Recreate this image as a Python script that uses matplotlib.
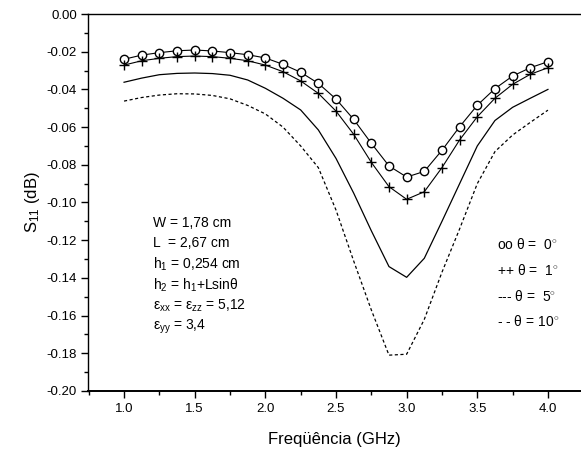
import matplotlib.pyplot as plt
from matplotlib.ticker import MultipleLocator

plt.rcParams['font.family'] = ['Liberation Sans', 'DejaVu Sans']
plt.rcParams['mathtext.fontset'] = 'custom'
plt.rcParams['mathtext.rm'] = 'Liberation Sans'
plt.rcParams['mathtext.it'] = 'Liberation Sans'

# frequencia (GHz)
freq = [1.0, 1.125, 1.25, 1.375, 1.5, 1.625, 1.75, 1.875, 2.0, 2.125, 2.25, 2.375, 2.5,
        2.625, 2.75, 2.875, 3.0, 3.125, 3.25, 3.375, 3.5, 3.625, 3.75, 3.875, 4.0]

# S11 (dB) para cada theta
s11_t0 = [-0.0240, -0.0218, -0.0205, -0.0195, -0.0191, -0.0196, -0.0205, -0.0216, -0.0233,
          -0.0267, -0.0309, -0.0368, -0.0451, -0.0559, -0.0686, -0.0806, -0.0865, -0.0835,
          -0.0723, -0.0598, -0.0484, -0.0396, -0.0329, -0.0285, -0.0253]
s11_t1 = [-0.0271, -0.0248, -0.0235, -0.0226, -0.0223, -0.0226, -0.0235, -0.0248, -0.0271,
          -0.0306, -0.0355, -0.0421, -0.0515, -0.0638, -0.0787, -0.0916, -0.0983, -0.0943,
          -0.0815, -0.0668, -0.0545, -0.0447, -0.0373, -0.0320, -0.0285]
s11_t5 = [-0.0362, -0.0340, -0.0322, -0.0315, -0.0313, -0.0316, -0.0325, -0.0350, -0.0394,
          -0.0447, -0.0509, -0.0615, -0.0766, -0.0950, -0.1150, -0.1340, -0.1397, -0.1296,
          -0.1100, -0.0900, -0.0700, -0.0565, -0.0495, -0.0447, -0.0400]
s11_t10 = [-0.0462, -0.0443, -0.0430, -0.0423, -0.0424, -0.0432, -0.0450, -0.0485, -0.0530,
           -0.0600, -0.0700, -0.0815, -0.1040, -0.1310, -0.1570, -0.1810, -0.1805, -0.1620,
           -0.1370, -0.1140, -0.0900, -0.0730, -0.0642, -0.0575, -0.0510]

params = [r'W = 1,78 cm',
          r'L  = 2,67 cm',
          r'h$_1$ = 0,254 cm',
          r'h$_2$ = h$_1$+Lsinθ',
          r'ε$_{xx}$ = ε$_{zz}$ = 5,12',
          r'ε$_{yy}$ = 3,4']
legend_txt = [r'oo θ =  0$^{\circ}$',
              r'++ θ =  1$^{\circ}$',
              r'--- θ =  5$^{\circ}$',
              r'- - θ = 10$^{\circ}$']

fig = plt.figure(figsize=(5.81, 4.55), dpi=100)
ax = fig.add_axes([0.1515, 0.1407, 0.8485, 0.8285])

ax.plot(freq, s11_t0, '-', color='black', lw=0.8, marker='o', ms=6,
        mfc='white', mec='black', mew=1.0)
ax.plot(freq, s11_t1, '-', color='black', lw=0.8, marker='+', ms=7, mew=1.0)
ax.plot(freq, s11_t5, '-', color='black', lw=0.9)
ax.plot(freq, s11_t10, color='black', lw=0.9, dashes=(2.5, 2))

ax.set_xlim(0.745, 4.234)
ax.set_ylim(-0.20, 0.0)
ax.xaxis.set_major_locator(MultipleLocator(0.5))
ax.xaxis.set_minor_locator(MultipleLocator(0.25))
ax.yaxis.set_major_locator(MultipleLocator(0.02))
ax.yaxis.set_minor_locator(MultipleLocator(0.01))
ax.yaxis.set_major_formatter(plt.FuncFormatter(lambda v, p: f'{v:.2f}'))
ax.xaxis.set_major_formatter(plt.FuncFormatter(lambda v, p: f'{v:.1f}'))

ax.spines['right'].set_visible(False)
for s in ['left', 'bottom', 'top']:
    ax.spines[s].set_linewidth(1.0)
ax.spines['bottom'].set_linewidth(1.4)
ax.tick_params(which='major', direction='out', length=5, width=1.0, labelsize=9.5, pad=3)
ax.tick_params(axis='x', which='major', pad=4)
ax.tick_params(which='minor', direction='out', length=3, width=1.0)
ax.tick_params(top=False, right=False)

ax.set_xlabel('Freqüência (GHz)', fontsize=12, labelpad=12)
ax.set_ylabel(r'S$_{11}$ (dB)', fontsize=12, labelpad=3)

py = [-0.1109, -0.1215, -0.1326, -0.1438, -0.1549, -0.1660]
for t, yy in zip(params, py):
    ax.text(1.205, yy, t, fontsize=10, va='center', ha='left')

ly = [-0.1225, -0.1363, -0.1501, -0.1634]
for t, yy in zip(legend_txt, ly):
    ax.text(3.639, yy, t, fontsize=10, va='center', ha='left')

fig.savefig('out.png', dpi=100)
